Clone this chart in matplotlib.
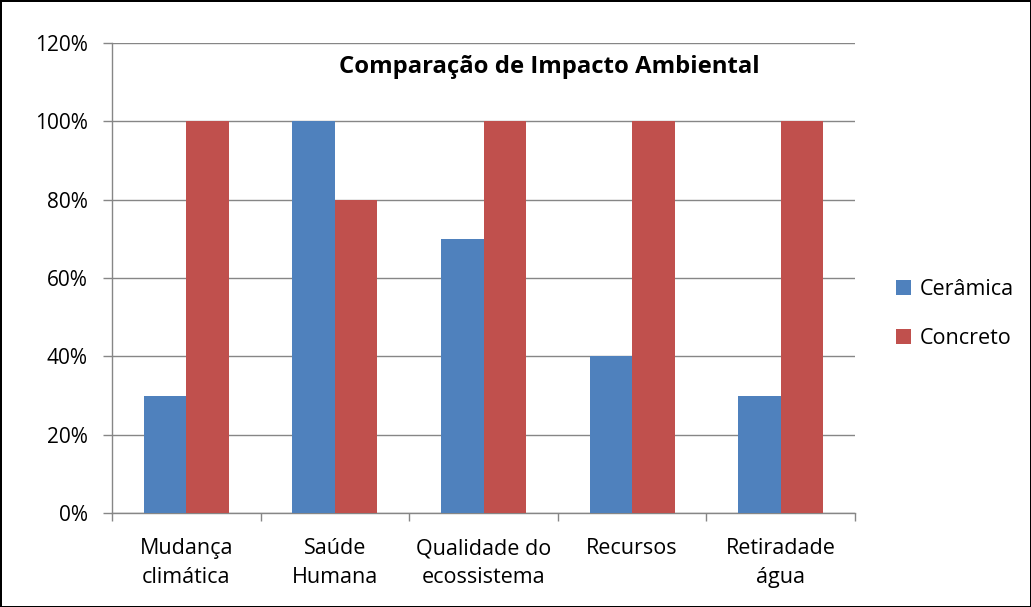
import matplotlib.pyplot as plt
import numpy as np

# data
categorias = ["Mudança\nclimática", "Saúde\nHumana", "Qualidade do\necossistema",
              "Recursos", "Retiradade\nágua"]
ceramica = [30, 100, 70, 40, 30]
concreto = [100, 80, 100, 100, 100]
y_ticks = [0, 20, 40, 60, 80, 100, 120]

azul = "#4F81BD"
vermelho = "#C0504D"
cinza = "#868686"

plt.rcParams['font.family'] = ['Open Sans', 'DejaVu Sans']

fig = plt.figure(figsize=(10.31, 6.07), dpi=100)
fig.patch.set_edgecolor("black")
fig.patch.set_linewidth(2)
ax = fig.add_axes([112 / 1031, 94 / 607, 743 / 1031, 470 / 607])

x = np.arange(len(categorias))
w = 0.2857
ax.bar(x - w / 2, ceramica, w, color=azul, label="Cerâmica", zorder=3)
ax.bar(x + w / 2, concreto, w, color=vermelho, label="Concreto", zorder=3)

ax.set_xlim(-0.5, len(categorias) - 0.5)
ax.set_ylim(0, 120)
ax.set_yticks(y_ticks)
ax.set_yticklabels([f"{v}%" for v in y_ticks], fontsize=15)
ax.yaxis.grid(True, color=cinza, linewidth=1, zorder=0)

ax.set_xticks(x)
ax.set_xticklabels(categorias, fontsize=15.5, linespacing=1.5)
ax.set_xticks(np.arange(-0.5, len(categorias)), minor=True)
ax.tick_params(axis="x", which="major", length=0, pad=18)
ax.tick_params(axis="x", which="minor", length=6, color=cinza, width=1)
ax.tick_params(axis="y", length=6.5, color=cinza, width=1, pad=11)

for s in ["top", "right"]:
    ax.spines[s].set_visible(False)
for s in ["left", "bottom"]:
    ax.spines[s].set_color(cinza)
    ax.spines[s].set_linewidth(1)

ax.text(0.589, 0.949, "Comparação de Impacto Ambiental", transform=ax.transAxes,
        ha="center", va="center", fontsize=17.2, fontweight="bold")

ax.legend(loc="center left", bbox_to_anchor=(1.055, 0.423), frameon=False,
          fontsize=15.5, handlelength=0.7, handleheight=0.7, labelspacing=1.3,
          handletextpad=0.4, borderpad=0, borderaxespad=0)

fig.savefig("out.png", dpi=100, edgecolor=fig.get_edgecolor())
